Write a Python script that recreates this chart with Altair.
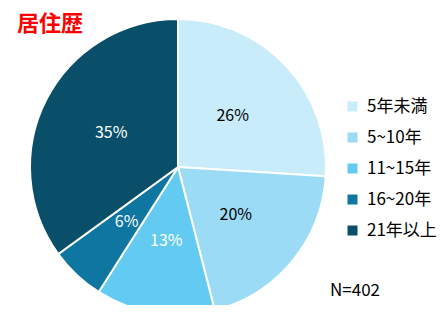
import altair as alt
import pandas as pd

categories = ["5年未満", "5~10年", "11~15年", "16~20年", "21年以上"]
values = [26, 20, 13, 6, 35]
labels = ["26%", "20%", "13%", "6%", "35%"]
colors = ["#C8ECFA", "#9BDBF6", "#63CBF1", "#0E76A0", "#0A4F69"]
text_colors = ["#000000", "#000000", "#FFFFFF", "#FFFFFF", "#FFFFFF"]
title_text = "居住歴"
note_text = "N=402"

df = pd.DataFrame({
    "cat": categories,
    "val": values,
    "lab": labels,
    "tc": text_colors,
    "ord": list(range(len(categories))),
})

FONT = "Noto Sans CJK JP"
CX, CY = 170, 159

base = alt.Chart(df).encode(
    theta=alt.Theta("val:Q", stack=True),
    order=alt.Order("ord:Q"),
)

arcs = base.mark_arc(outerRadius=148, stroke="white", strokeWidth=2).encode(
    x=alt.value(CX),
    y=alt.value(CY),
    color=alt.Color(
        "cat:N",
        scale=alt.Scale(domain=categories, range=colors),
        sort=categories,
        legend=alt.Legend(
            title=None,
            orient="none",
            legendX=336,
            legendY=90,
            symbolType="square",
            symbolSize=100,
            symbolStrokeWidth=0,
            labelFont=FONT,
            labelFontSize=17,
            labelColor="#000000",
            rowPadding=13,
            labelOffset=6,
        ),
    ),
)

texts = base.mark_text(radius=75, font=FONT, fontSize=16).encode(
    x=alt.value(CX),
    y=alt.value(CY),
    text="lab:N",
    color=alt.Color("tc:N", scale=None),
)

title = alt.Chart(pd.DataFrame({"t": [title_text]})).mark_text(
    font=FONT, fontSize=22, fontWeight="bold", color="#FF0000", align="left", baseline="middle"
).encode(x=alt.value(9), y=alt.value(16), text="t:N")

note = alt.Chart(pd.DataFrame({"t": [note_text]})).mark_text(
    font=FONT, fontSize=17, color="#000000", align="left", baseline="middle"
).encode(x=alt.value(322), y=alt.value(283), text="t:N")

chart = alt.layer(arcs, texts, title, note).properties(
    width=430, height=297, autosize=alt.AutoSizeParams(type="none"), padding=0
).configure_view(stroke=None)

chart.save("out.html", embed_options={"renderer": "svg", "actions": False})
